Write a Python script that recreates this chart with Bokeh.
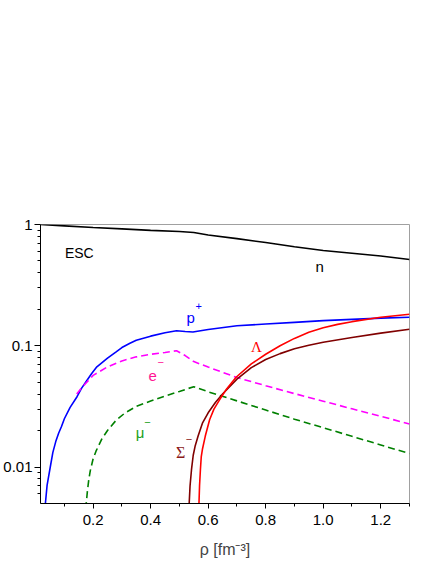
from bokeh.plotting import figure
from bokeh.models import Range1d, FixedTicker, CustomJSTickFormatter
from bokeh.core.properties import value
from bokeh.embed import file_html
from bokeh.resources import INLINE

# density grid and particle fractions
rho_n = [0.017, 0.10, 0.20, 0.30, 0.40, 0.50, 0.55, 0.60, 0.70, 0.80, 0.90, 1.00, 1.10, 1.20, 1.30]
y_n = [1.00, 0.975, 0.945, 0.92, 0.895, 0.875, 0.86, 0.82, 0.765, 0.71, 0.655, 0.61, 0.58, 0.55, 0.515]

rho_p = [0.030, 0.034, 0.040, 0.045, 0.051, 0.060, 0.070, 0.080, 0.090, 0.100, 0.120, 0.144,
         0.160, 0.180, 0.195, 0.213, 0.250, 0.280, 0.300, 0.328, 0.350, 0.400, 0.450, 0.490,
         0.520, 0.547, 0.600, 0.700, 0.800, 0.900, 1.000, 1.100, 1.200, 1.300]
y_p = [0.0042, 0.005, 0.0071, 0.0083, 0.010, 0.0132, 0.0162, 0.019, 0.0216, 0.025, 0.031, 0.038,
       0.0447, 0.0525, 0.059, 0.067, 0.079, 0.089, 0.0966, 0.105, 0.111, 0.120, 0.128, 0.133,
       0.131, 0.130, 0.136, 0.146, 0.151, 0.156, 0.161, 0.165, 0.169, 0.172]

rho_e = [0.143, 0.16, 0.20, 0.25, 0.30, 0.35, 0.40, 0.45, 0.49, 0.52, 0.55, 0.60, 0.70, 0.80,
         0.90, 1.00, 1.10, 1.20, 1.30]
y_e = [0.040, 0.045, 0.057, 0.067, 0.075, 0.081, 0.085, 0.088, 0.091, 0.083, 0.074, 0.0667,
       0.0547, 0.0468, 0.0403, 0.0349, 0.0302, 0.0262, 0.0226]

rho_mu = [0.174, 0.176, 0.18, 0.185, 0.19, 0.20, 0.21, 0.23, 0.25, 0.28, 0.31, 0.35, 0.40, 0.45,
          0.50, 0.55, 0.60, 0.70, 0.80, 0.90, 1.00, 1.10, 1.20, 1.30]
y_mu = [0.0045, 0.005, 0.0063, 0.0079, 0.0093, 0.0117, 0.0135, 0.017, 0.020, 0.0243, 0.0278,
        0.0316, 0.035, 0.0385, 0.042, 0.046, 0.0417, 0.0351, 0.0295, 0.0248, 0.0211, 0.0179,
        0.0152, 0.0129]

rho_sig = [0.533, 0.534, 0.537, 0.542, 0.548, 0.555, 0.565, 0.58, 0.60, 0.625, 0.65, 0.70, 0.75,
           0.80, 0.85, 0.90, 0.95, 1.00, 1.10, 1.20, 1.30]
y_sig = [0.0045, 0.005, 0.007, 0.0095, 0.0125, 0.015, 0.018, 0.023, 0.028, 0.034, 0.040, 0.053,
         0.066, 0.077, 0.0861, 0.0944, 0.101, 0.107, 0.117, 0.127, 0.137]

rho_lam = [0.567, 0.568, 0.570, 0.573, 0.576, 0.58, 0.59, 0.605, 0.62, 0.64, 0.662, 0.697, 0.75,
           0.80, 0.85, 0.90, 0.95, 1.00, 1.05, 1.10, 1.20, 1.30]
y_lam = [0.0045, 0.005, 0.007, 0.0095, 0.0122, 0.014, 0.018, 0.0245, 0.030, 0.036, 0.0433, 0.055,
         0.0708, 0.0851, 0.100, 0.115, 0.129, 0.1406, 0.150, 0.158, 0.172, 0.182]

x_ticks = [0.2, 0.4, 0.6, 0.8, 1.0, 1.2]
x_minor = [0.1, 0.2, 0.3, 0.4, 0.5, 0.6, 0.7, 0.8, 0.9, 1.0, 1.1, 1.2, 1.3]
y_ticks = [0.01, 0.1, 1.0]
y_minor = [0.006, 0.007, 0.008, 0.009, 0.02, 0.03, 0.04, 0.05, 0.06, 0.07, 0.08, 0.09,
           0.2, 0.3, 0.4, 0.5, 0.6, 0.7, 0.8, 0.9]

SANS = "Liberation Sans"
SERIF = "Liberation Serif"

p = figure(width=436, height=564, x_range=Range1d(0.017, 1.3), y_range=Range1d(0.005, 1.0),
           y_axis_type="log", output_backend="svg", toolbar_location=None,
           min_border_left=40, min_border_right=27, min_border_top=224, min_border_bottom=61)
p.grid.visible = False
p.outline_line_color = "#a0a0a0"
p.outline_line_width = 1
p.background_fill_color = "white"
p.border_fill_color = "white"

p.xaxis.ticker = FixedTicker(ticks=x_ticks, minor_ticks=x_minor)
p.xaxis.formatter = CustomJSTickFormatter(code="return tick.toFixed(1);")
p.yaxis.ticker = FixedTicker(ticks=y_ticks, minor_ticks=y_minor)
p.yaxis.formatter = CustomJSTickFormatter(code="return tick >= 1 ? '1' : String(tick);")
for ax in (p.xaxis, p.yaxis):
    ax.axis_line_color = "black"
    ax.major_tick_line_color = "black"
    ax.minor_tick_line_color = "black"
    ax.major_tick_in = 0
    ax.minor_tick_in = 0
    ax.major_label_text_font = SANS
    ax.major_label_text_font_size = "15px"
    ax.major_label_text_color = "black"
p.xaxis.major_tick_out = 5
p.xaxis.minor_tick_out = 3
p.yaxis.major_tick_out = 6
p.yaxis.minor_tick_out = 3
p.xaxis.major_label_standoff = 6
p.yaxis.major_label_standoff = 2
p.xaxis.axis_label = "ρ [fm⁻³]"
p.xaxis.axis_label_text_font = SANS
p.xaxis.axis_label_text_font_size = "16px"
p.xaxis.axis_label_text_font_style = "normal"
p.xaxis.axis_label_standoff = 13

p.line(rho_n, y_n, line_color="black", line_width=1.6)
p.line(rho_p, y_p, line_color="#0000ff", line_width=1.6)
p.line(rho_e, y_e, line_color="#ff00ff", line_width=1.6, line_dash="7 4")
p.line(rho_mu, y_mu, line_color="#008000", line_width=1.6, line_dash="7 4")
p.line(rho_sig, y_sig, line_color="#800000", line_width=1.6)
p.line(rho_lam, y_lam, line_color="#ff0000", line_width=1.6)

def lab(x, y, t, color, font=SANS, size="14px", baseline="alphabetic"):
    p.text(x=[x], y=[y], text=[t], text_color=color, text_font=value(font),
           text_font_size=size, text_align="center", text_baseline=baseline)

lab(0.152, 0.578, "ESC", "black", baseline="middle")
lab(0.988, 0.450, "n", "black", size="15px", baseline="middle")
lab(0.539, 0.172, "p", "#0000ff", size="15px")
lab(0.567, 0.212, "+", "#0000ff", size="11px", baseline="middle")
lab(0.407, 0.0567, "e", "#ff1493", size="15px")
lab(0.4346, 0.0739, "−", "#ff1493", size="11px", baseline="middle")
lab(0.363, 0.0192, "μ", "#22a022", size="15px")
lab(0.3886, 0.0233, "−", "#22a022", size="11px", baseline="middle")
lab(0.504, 0.01305, "Σ", "#8b1a1a", font=SERIF, size="16px")
lab(0.533, 0.0171, "−", "#8b1a1a", size="11px", baseline="middle")
lab(0.768, 0.0976, "Λ", "#ff0000", font=SERIF, size="15px")

open("out.html", "w").write(file_html(p, INLINE))
